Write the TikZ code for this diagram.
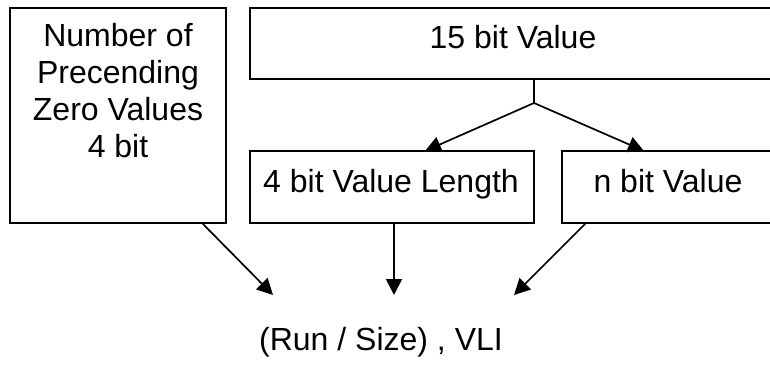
\documentclass[tikz,border=0pt]{standalone}
\usepackage{fontspec}
\setmainfont{Liberation Sans}
\usetikzlibrary{arrows.meta}

\tikzset{
  field/.style={draw=black, line width=1.8pt, inner sep=0pt, outer sep=0pt},
  label/.style={inner sep=0pt, outer sep=0pt, font=\fontsize{32}{37}\selectfont},
  arr/.style={line width=1.7pt, -{Triangle[length=16pt,width=16pt]}},
  wire/.style={line width=1.7pt}
}

\begin{document}
\begin{tikzpicture}[x=1pt, y=-1pt]
  \useasboundingbox (0,0) rectangle (770,366);

  % field boxes (the two on the right run past the page edge)
  \node[field, minimum width=216pt, minimum height=215pt] (zero) at (118,115.5) {};
  \node[field, minimum width=526pt, minimum height=71pt]  (val)  at (513,43.5) {};
  \node[field, minimum width=284pt, minimum height=72pt]  (len)  at (392,187) {};
  \node[field, minimum width=214pt, minimum height=72pt]  (nval) at (669,187) {};

  % box texts
  \node[label, align=center, anchor=north] (zerot) at (118,23.5)
    {Number of\\Precending\\Zero Values\\4 bit};
  \node[label, anchor=base] (valt)  at (513,49)  {15 bit Value};
  \node[label, anchor=base] (lent)  at (391,192) {4 bit Value Length};
  \node[label, anchor=base] (nvalt) at (668,193) {n bit Value};

  % resulting code word
  \node[label, anchor=base] (res) at (381,350) {(Run / Size) , VLI};

  % split of the 15 bit value into length and value parts
  \coordinate (split) at (534,103);
  \draw[wire] (split |- val.south) -- (split);
  \draw[arr] (split) -- ([xshift=33pt]len.north);
  \draw[arr] (split) -- ([xshift=-25pt]nval.north);

  % parts combined into the code word
  \coordinate (in1) at (273,295);
  \coordinate (in2) at (394,295);
  \coordinate (in3) at (514,295);
  \draw[arr] ([xshift=84pt]zero.south) -- (in1);
  \draw[arr] (in2 |- len.south) -- (in2);
  \draw[arr] ([xshift=-83pt]nval.south) -- (in3);
\end{tikzpicture}
\end{document}
